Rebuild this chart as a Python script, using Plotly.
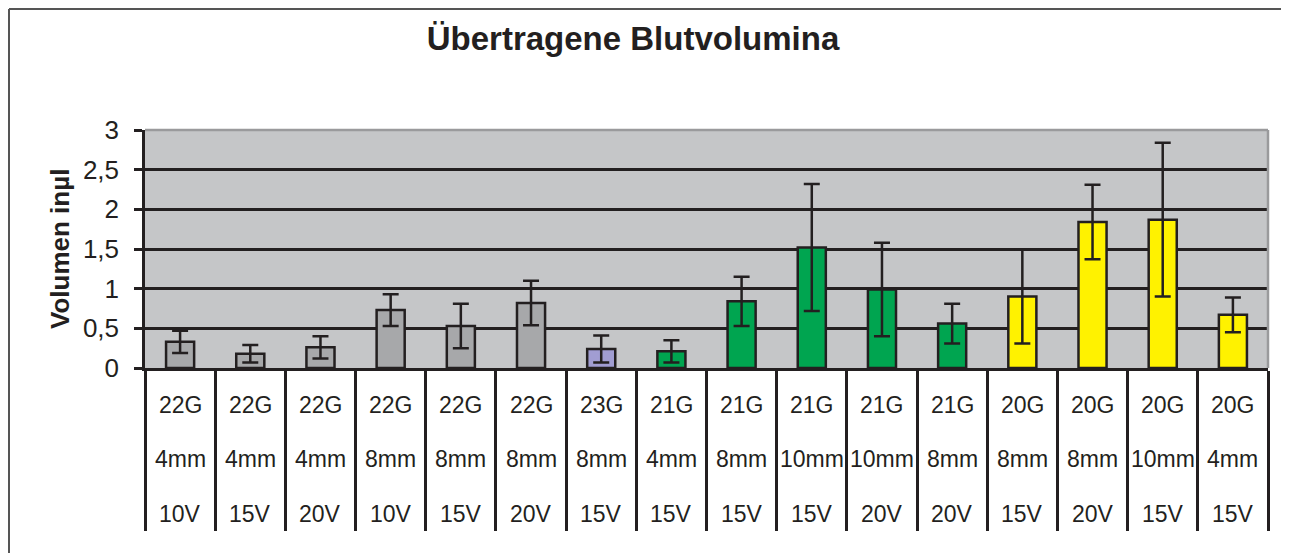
import plotly.graph_objects as go

# ---- data ----
gauge = ["22G", "22G", "22G", "22G", "22G", "22G", "23G", "21G",
         "21G", "21G", "21G", "21G", "20G", "20G", "20G", "20G"]
length = ["4mm", "4mm", "4mm", "8mm", "8mm", "8mm", "8mm", "4mm",
          "8mm", "10mm", "10mm", "8mm", "8mm", "8mm", "10mm", "4mm"]
voltage = ["10V", "15V", "20V", "10V", "15V", "20V", "15V", "15V",
           "15V", "15V", "20V", "20V", "15V", "20V", "15V", "15V"]
volume = [0.33, 0.18, 0.26, 0.73, 0.53, 0.82, 0.24, 0.21,
          0.84, 1.52, 0.99, 0.56, 0.90, 1.84, 1.87, 0.67]
error = [0.14, 0.11, 0.14, 0.20, 0.28, 0.28, 0.17, 0.14,
         0.31, 0.80, 0.59, 0.25, 0.59, 0.47, 0.97, 0.22]
group = ["gray"] * 6 + ["purple"] + ["green"] * 5 + ["yellow"] * 4
yticks = [0, 0.5, 1, 1.5, 2, 2.5, 3]
ytick_text = ["0", "0,5", "1", "1,5", "2", "2,5", "3"]

palette = {"gray": "#A7A8AA", "purple": "#A19DD2",
           "green": "#00A550", "yellow": "#FFF200"}

OFF = 8  # page body margin
W, H = 1289 - OFF, 553 - OFF
ML, MT = 145 - OFF, 130 - OFF
MR = W - (1268 - OFF)
MB = H - (368 - OFF)
PW, PH = W - ML - MR, H - MT - MB
FONT = "Liberation Sans, Arial, sans-serif"
INK = "#231F20"

cats = [f"{g} {l} {v}" for g, l, v in zip(gauge, length, voltage)]

fig = go.Figure(go.Bar(
    x=cats, y=volume,
    marker=dict(color=[palette[g] for g in group],
                line=dict(color=INK, width=2.5)),
    width=0.4,
    error_y=dict(type="data", array=error, visible=True,
                 color=INK, thickness=2.5, width=8),
))

annotations = []
for c, g, l, v in zip(cats, gauge, length, voltage):
    for txt, dy in ((g, -37), (l, -91), (v, -146)):
        annotations.append(dict(
            x=c, xref="x", y=0, yref="paper", yshift=dy,
            text=txt, showarrow=False, xanchor="center", yanchor="middle",
            font=dict(family=FONT, size=23, color=INK)))

annotations.append(dict(
    x=0, xref="paper", xshift=-(145 - 60), y=0.5, yref="paper",
    text="<b>Volumen inµl</b>", textangle=-90, showarrow=False,
    xanchor="center", yanchor="middle",
    font=dict(family=FONT, size=26, color=INK)))

fx0 = (1 - ML) / PW
fy1 = 1 + (MT - 1) / PH
shapes = [
    # outer frame (top and left edges)
    dict(type="line", xref="paper", yref="paper",
         x0=fx0, x1=(W + 20 - ML) / PW, y0=fy1, y1=fy1,
         line=dict(color="#555555", width=2), layer="below"),
    dict(type="line", xref="paper", yref="paper",
         x0=fx0, x1=fx0, y0=-(MB + 20) / PH, y1=fy1,
         line=dict(color="#555555", width=2), layer="below"),
    # plot area top/right border
    dict(type="line", xref="paper", yref="paper", x0=0, x1=1, y0=1, y1=1,
         line=dict(color="#9A9A9C", width=2.5), layer="above"),
    dict(type="line", xref="paper", yref="paper", x0=1, x1=1, y0=0, y1=1,
         line=dict(color="#9A9A9C", width=2.5), layer="above"),
]

fig.update_layout(
    width=W, height=H,
    margin=dict(l=ML, r=MR, t=MT, b=MB),
    paper_bgcolor="white", plot_bgcolor="#C5C6C8",
    showlegend=False, bargap=0.6,
    font=dict(family=FONT, color=INK),
    title=dict(text="<b>Übertragene Blutvolumina</b>",
               x=(633 - OFF) / W, xref="container", xanchor="center",
               y=1 - (38 - OFF) / H, yref="container", yanchor="middle",
               font=dict(family=FONT, size=33, color=INK)),
    annotations=annotations, shapes=shapes,
)
fig.update_xaxes(
    type="category", showgrid=False, showticklabels=False,
    tickson="boundaries", ticks="outside", ticklen=160, tickwidth=2.5,
    tickcolor=INK, showline=True, linecolor=INK, linewidth=2.5,
    range=[-0.5, len(cats) - 0.5], zeroline=False)
fig.update_yaxes(
    range=[0, 3], tickvals=yticks, ticktext=ytick_text,
    showgrid=True, gridcolor=INK, gridwidth=2.5,
    ticks="outside", ticklen=8, tickwidth=2.5, tickcolor=INK,
    ticklabelstandoff=10,
    showline=True, linecolor=INK, linewidth=2.5, zeroline=False,
    tickfont=dict(family=FONT, size=26, color=INK))

fig.write_html("out.html")
